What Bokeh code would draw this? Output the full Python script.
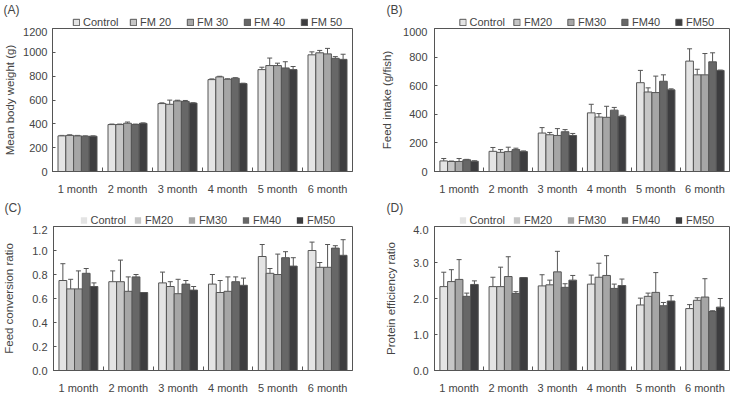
from bokeh.plotting import figure
from bokeh.layouts import column, row
from bokeh.models import (ColumnDataSource, Whisker, TeeHead, Legend, LegendItem,
                          FixedTicker, Range1d, NumeralTickFormatter)
from bokeh.transform import dodge
from bokeh.embed import file_html
from bokeh.resources import INLINE

# ---- data -------------------------------------------------------------
months = ["1 month", "2 month", "3 month", "4 month", "5 month", "6 month"]
groups_spaced = ["Control", "FM 20", "FM 30", "FM 40", "FM 50"]
groups = ["Control", "FM20", "FM30", "FM40", "FM50"]

# (A) mean body weight (g)
bw_control = [299, 394, 570, 771, 855, 979]
bw_fm20 = [303, 394, 564, 794, 889, 996]
bw_fm30 = [299, 405, 592, 774, 889, 987]
bw_fm40 = [296, 394, 588, 783, 869, 950]
bw_fm50 = [296, 404, 574, 738, 855, 941]
bw_err_control = [4, 4, 6, 6, 20, 25]
bw_err_fm20 = [5, 4, 35, 5, 63, 20]
bw_err_fm30 = [4, 10, 6, 4, 20, 46]
bw_err_fm40 = [3, 4, 8, 4, 52, 14]
bw_err_fm50 = [3, 4, 3, 3, 26, 43]

# (B) feed intake (g/fish)
fi_control = [74, 141, 269, 410, 621, 772]
fi_fm20 = [70, 134, 257, 381, 556, 676]
fi_fm30 = [70, 139, 252, 379, 552, 676]
fi_fm40 = [82, 153, 278, 429, 631, 767]
fi_fm50 = [72, 139, 252, 384, 571, 707]
fi_err_control = [17, 27, 38, 60, 86, 86]
fi_err_fm20 = [3, 19, 16, 24, 29, 39]
fi_err_fm30 = [21, 31, 48, 77, 115, 149]
fi_err_fm40 = [3, 10, 15, 19, 45, 63]
fi_err_fm50 = [3, 5, 14, 9, 7, 2]

# (C) feed conversion ratio
fcr_control = [0.75, 0.74, 0.73, 0.72, 0.95, 1.00]
fcr_fm20 = [0.68, 0.74, 0.70, 0.65, 0.81, 0.86]
fcr_fm30 = [0.68, 0.66, 0.64, 0.66, 0.80, 0.86]
fcr_fm40 = [0.81, 0.78, 0.72, 0.74, 0.94, 1.02]
fcr_fm50 = [0.70, 0.65, 0.67, 0.71, 0.87, 0.96]
fcr_err_control = [0.14, 0.09, 0.09, 0.08, 0.10, 0.07]
fcr_err_fm20 = [0.08, 0.18, 0.04, 0.10, 0.04, 0.04]
fcr_err_fm30 = [0.15, 0.12, 0.12, 0.12, 0.17, 0.19]
fcr_err_fm40 = [0.04, 0.02, 0.03, 0.04, 0.05, 0.02]
fcr_err_fm50 = [0.03, 0.0, 0.03, 0.06, 0.07, 0.13]

# (D) protein efficiency ratio
per_control = [2.33, 2.33, 2.35, 2.40, 1.82, 1.72]
per_fm20 = [2.47, 2.33, 2.38, 2.59, 2.06, 1.95]
per_fm30 = [2.53, 2.61, 2.74, 2.64, 2.17, 2.04]
per_fm40 = [2.06, 2.14, 2.31, 2.28, 1.80, 1.64]
per_fm50 = [2.39, 2.58, 2.51, 2.36, 1.93, 1.76]
per_err_control = [0.40, 0.26, 0.31, 0.25, 0.19, 0.11]
per_err_fm20 = [0.33, 0.54, 0.13, 0.39, 0.09, 0.07]
per_err_fm30 = [0.55, 0.55, 0.57, 0.55, 0.55, 0.51]
per_err_fm40 = [0.09, 0.05, 0.10, 0.12, 0.09, 0.02]
per_err_fm50 = [0.10, 0.0, 0.13, 0.18, 0.15, 0.24]

ticks_a = [0, 200, 400, 600, 800, 1000, 1200]
ticks_b = [0, 200, 400, 600, 800, 1000]
ticks_c = [0.0, 0.2, 0.4, 0.6, 0.8, 1.0, 1.2]
ticks_d = [0.0, 1.0, 2.0, 3.0, 4.0]

# ---- styling ----------------------------------------------------------
FILLS = ["#e4e4e4", "#c6c6c6", "#a6a6a6", "#676767", "#3d3d3f"]
EDGE = "#555555"
TEXT = "#444444"
FONT = "Liberation Sans"
BAR_W = 0.156
OFFSETS = [-2 * BAR_W, -BAR_W, 0.0, BAR_W, 2 * BAR_W]
HEAD_H = 27
PANEL_H = 198
XC = [i + 0.5 for i in range(len(months))]


def sources(series, errors):
    return [ColumnDataSource(dict(xc=XC, val=vals,
                                  hi=[v + e for v, e in zip(vals, errs)]))
            for vals, errs in zip(series, errors)]


def header(tag, names, srcs, width, left, right, tag_x, legend_margin,
           legend_spacing, label_w, swatch_edge):
    """Panel letter plus the horizontal key that sits above each frame."""
    h = figure(width=width, height=HEAD_H, x_range=Range1d(0, len(months)),
               y_range=Range1d(0, 1), x_axis_type=None, y_axis_type=None,
               output_backend="svg", toolbar_location=None,
               min_border_left=left, min_border_right=right,
               min_border_top=0, min_border_bottom=0)
    h.grid.visible = False
    h.outline_line_color = None
    h.title.text = tag
    h.title.align = "left"
    h.title.offset = tag_x - left
    h.title.standoff = 0
    h.title.text_font = FONT
    h.title.text_font_size = "12px"
    h.title.text_font_style = "normal"
    h.title.text_color = TEXT

    items = []
    for name, src, fill, off in zip(names, srcs, FILLS, OFFSETS):
        # hidden proxy bars: only their legend swatch is drawn
        swatch = h.vbar(x=dodge("xc", off), top="val", bottom=0, width=BAR_W,
                        source=src, fill_color=fill,
                        line_color=EDGE if swatch_edge else None)
        swatch.visible = False
        items.append(LegendItem(label=name, renderers=[swatch]))
    legend = Legend(items=items, orientation="horizontal",
                    location="center_right",
                    glyph_width=8, glyph_height=8, label_width=label_w,
                    label_height=12, label_standoff=3, spacing=legend_spacing,
                    padding=0, margin=legend_margin, border_line_color=None,
                    background_fill_alpha=0, inactive_fill_alpha=0,
                    label_text_font=FONT, label_text_font_size="11px",
                    label_text_color=TEXT)
    h.add_layout(legend)
    return h


def panel(ylabel, srcs, yticks, fmt, width, borders, tick_standoff,
          label_standoff):
    left, right, top, bottom = borders
    p = figure(width=width, height=PANEL_H - HEAD_H,
               x_range=Range1d(0, len(months)),
               y_range=Range1d(yticks[0], yticks[-1]),
               output_backend="svg", toolbar_location=None,
               min_border_left=left, min_border_right=right,
               min_border_top=top, min_border_bottom=bottom)
    p.xgrid.visible = False
    p.ygrid.visible = False
    p.outline_line_color = EDGE
    p.background_fill_color = "white"

    for src, fill, off in zip(srcs, FILLS, OFFSETS):
        p.vbar(x=dodge("xc", off), top="val", bottom=0, width=BAR_W, source=src,
               fill_color=fill, line_color=EDGE, line_width=1)
        p.add_layout(Whisker(base=dodge("xc", off), lower="val", upper="hi",
                             source=src, line_color=EDGE, line_width=1,
                             lower_head=None,
                             upper_head=TeeHead(size=5, line_color=EDGE,
                                                line_width=1)))

    xa = p.xaxis[0]
    xa.ticker = FixedTicker(ticks=XC, minor_ticks=list(range(1, len(months))))
    xa.major_label_overrides = {x: m for x, m in zip(XC, months)}
    xa.major_tick_line_color = None
    xa.minor_tick_in = 4
    xa.minor_tick_out = 0
    xa.minor_tick_line_color = EDGE
    xa.axis_line_color = EDGE
    xa.major_label_standoff = 5
    xa.major_label_text_font = FONT
    xa.major_label_text_font_size = "11px"
    xa.major_label_text_color = TEXT

    ya = p.yaxis[0]
    ya.ticker = FixedTicker(ticks=yticks)
    ya.formatter = NumeralTickFormatter(format=fmt)
    ya.major_tick_in = 3
    ya.major_tick_out = 0
    ya.major_tick_line_color = EDGE
    ya.minor_tick_line_color = None
    ya.axis_line_color = EDGE
    ya.major_label_standoff = tick_standoff
    ya.major_label_text_font = FONT
    ya.major_label_text_font_size = "11px"
    ya.major_label_text_color = TEXT
    ya.axis_label = ylabel
    ya.axis_label_standoff = label_standoff
    ya.axis_label_text_font = FONT
    ya.axis_label_text_font_size = "11.5px"
    ya.axis_label_text_font_style = "normal"
    ya.axis_label_text_color = TEXT
    return p


src_a = sources([bw_control, bw_fm20, bw_fm30, bw_fm40, bw_fm50],
                [bw_err_control, bw_err_fm20, bw_err_fm30, bw_err_fm40, bw_err_fm50])
src_b = sources([fi_control, fi_fm20, fi_fm30, fi_fm40, fi_fm50],
                [fi_err_control, fi_err_fm20, fi_err_fm30, fi_err_fm40, fi_err_fm50])
src_c = sources([fcr_control, fcr_fm20, fcr_fm30, fcr_fm40, fcr_fm50],
                [fcr_err_control, fcr_err_fm20, fcr_err_fm30, fcr_err_fm40, fcr_err_fm50])
src_d = sources([per_control, per_fm20, per_fm30, per_fm40, per_fm50],
                [per_err_control, per_err_fm20, per_err_fm30, per_err_fm40, per_err_fm50])

ha = header("(A)", groups_spaced, src_a, 365, 52, 13, 3, 3, 8, 38, True)
pa = panel("Mean body weight (g)", src_a, ticks_a, "0", 365, (52, 13, 1, 27), 5, 4)
hb = header("(B)", groups, src_b, 366, 69, 2, 21, 8, 8, 35, True)
pb = panel("Feed intake (g/fish)", src_b, ticks_b, "0", 366, (69, 2, 1, 27), 7, 7)
hc = header("(C)", groups, src_c, 365, 52, 13, 3, 10, 8, 35, False)
pc = panel("Feed conversion ratio", src_c, ticks_c, "0.0", 365, (52, 13, 1, 24), 6, 14)
hd = header("(D)", groups, src_d, 366, 69, 2, 21, 8, 8, 35, False)
pd_ = panel("Protein efficiency ratio", src_d, ticks_d, "0.0", 366, (69, 2, 1, 24), 6, 13)

layout = column(row(column(ha, pa), column(hb, pb)),
                row(column(hc, pc), column(hd, pd_)))
open("out.html", "w").write(file_html(layout, INLINE))
